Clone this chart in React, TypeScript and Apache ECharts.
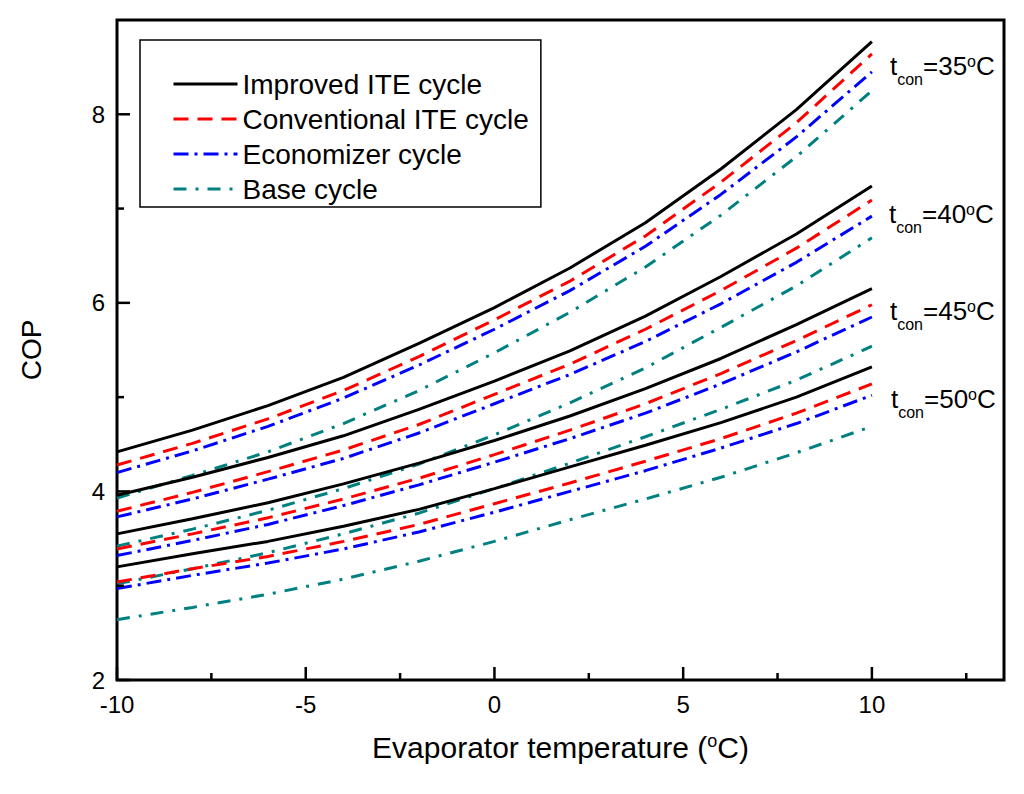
import { useEffect, useRef } from "react";
import * as echarts from "echarts";

// ─── Data ──────────────────────────────────────────────────────────
const X_VALUES = [-10, -8, -6, -4, -2, 0, 2, 4, 6, 8, 10];

const IMPROVED_35 = [4.42, 4.65, 4.91, 5.21, 5.57, 5.95, 6.37, 6.85, 7.42, 8.05, 8.77];
const IMPROVED_40 = [3.96, 4.15, 4.36, 4.59, 4.87, 5.17, 5.49, 5.86, 6.28, 6.73, 7.24];
const IMPROVED_45 = [3.55, 3.71, 3.88, 4.08, 4.30, 4.54, 4.80, 5.09, 5.41, 5.77, 6.15];
const IMPROVED_50 = [3.20, 3.34, 3.47, 3.63, 3.81, 4.03, 4.26, 4.49, 4.73, 5.00, 5.32];

const CONVENTIONAL_35 = [4.28, 4.51, 4.77, 5.07, 5.43, 5.82, 6.23, 6.71, 7.28, 7.91, 8.64];
const CONVENTIONAL_40 = [3.79, 3.99, 4.21, 4.44, 4.71, 5.03, 5.35, 5.72, 6.13, 6.58, 7.09];
const CONVENTIONAL_45 = [3.39, 3.55, 3.72, 3.92, 4.14, 4.39, 4.65, 4.93, 5.25, 5.60, 5.98];
const CONVENTIONAL_50 = [3.04, 3.18, 3.31, 3.47, 3.65, 3.87, 4.09, 4.32, 4.56, 4.83, 5.14];

const ECONOMIZER_35 = [4.20, 4.43, 4.69, 4.99, 5.34, 5.72, 6.13, 6.60, 7.15, 7.76, 8.45];
const ECONOMIZER_40 = [3.73, 3.92, 4.13, 4.35, 4.62, 4.93, 5.24, 5.59, 5.99, 6.43, 6.92];
const ECONOMIZER_45 = [3.32, 3.48, 3.65, 3.85, 4.07, 4.31, 4.56, 4.83, 5.14, 5.48, 5.85];
const ECONOMIZER_50 = [2.97, 3.11, 3.24, 3.39, 3.57, 3.78, 4.00, 4.22, 4.46, 4.72, 5.02];

const BASE_35 = [3.93, 4.17, 4.42, 4.72, 5.07, 5.47, 5.90, 6.38, 6.93, 7.55, 8.25];
const BASE_40 = [3.42, 3.60, 3.80, 4.03, 4.29, 4.60, 4.94, 5.31, 5.74, 6.18, 6.69];
const BASE_45 = [3.02, 3.18, 3.35, 3.55, 3.77, 4.03, 4.30, 4.58, 4.87, 5.18, 5.54];
const BASE_50 = [2.64, 2.77, 2.91, 3.07, 3.26, 3.47, 3.70, 3.92, 4.15, 4.41, 4.69];

const CYCLE_NAMES = [
  "Improved ITE cycle",
  "Conventional ITE cycle",
  "Economizer cycle",
  "Base cycle",
];
const CONDENSER_TEMPS = ["35", "40", "45", "50"];

// tick marks (values on the axes)
const X_MAJOR_TICKS = [-10, -5, 0, 5, 10];
const X_MINOR_TICKS = [-7.5, -2.5, 2.5, 7.5, 12.5];
const Y_MAJOR_TICKS = [2, 4, 6, 8];
const Y_MINOR_TICKS = [3, 5, 7];

// ─── Styles ─────────────────────────────────────────────────────────
const FONT = "'Liberation Sans', Arial, sans-serif";
const X_MIN = -10;
const X_MAX = 13.5;
const Y_MIN = 2;
const Y_MAX = 9;
const MAJOR_LEN = 13;
const MINOR_LEN = 7;

const CYCLE_STYLES = [
  { color: "#000000", type: "solid" as any },
  { color: "#ff0000", type: [15, 9] },
  { color: "#0000ff", type: [15, 6, 3, 6] },
  { color: "#008080", type: [13, 9, 3, 9] },
];
const CYCLE_DATA = [
  [IMPROVED_35, IMPROVED_40, IMPROVED_45, IMPROVED_50],
  [CONVENTIONAL_35, CONVENTIONAL_40, CONVENTIONAL_45, CONVENTIONAL_50],
  [ECONOMIZER_35, ECONOMIZER_40, ECONOMIZER_45, ECONOMIZER_50],
  [BASE_35, BASE_40, BASE_45, BASE_50],
];
// label anchors (px) for the t_con annotations
const TCON_POS = [
  [890, 70],
  [889, 218],
  [890, 315],
  [891, 403],
];

export default function App() {
  const ref = useRef<HTMLDivElement>(null);

  useEffect(() => {
    if (!ref.current) return;
    const chart = echarts.init(ref.current, undefined, { renderer: "svg" });

    // draw base first so black lines end up on top
    const series: any[] = [];
    for (let c = CYCLE_NAMES.length - 1; c >= 0; c--) {
      CYCLE_DATA[c].forEach((arr) => {
        series.push({
          type: "line",
          name: CYCLE_NAMES[c],
          symbol: "none",
          smooth: false,
          lineStyle: { color: CYCLE_STYLES[c].color, width: 3, type: CYCLE_STYLES[c].type },
          itemStyle: { color: CYCLE_STYLES[c].color },
          data: X_VALUES.map((x, i) => [x, arr[i]]),
        });
      });
    }

    // inward ticks, placed through the axes' own scales
    const tickStyle = { stroke: "#000", lineWidth: 2.5 };
    series.push({
      type: "custom",
      silent: true,
      clip: false,
      z: 10,
      data: [
        ...X_MAJOR_TICKS.map((v) => [v, Y_MIN, MAJOR_LEN]),
        ...X_MINOR_TICKS.map((v) => [v, Y_MIN, MINOR_LEN]),
      ],
      renderItem: (_p: any, api: any) => {
        const pt = api.coord([api.value(0), api.value(1)]);
        return {
          type: "line",
          shape: { x1: pt[0], y1: pt[1], x2: pt[0], y2: pt[1] - api.value(2) },
          style: tickStyle,
        };
      },
    });
    series.push({
      type: "custom",
      silent: true,
      clip: false,
      z: 10,
      data: [
        ...Y_MAJOR_TICKS.map((v) => [X_MIN, v, MAJOR_LEN]),
        ...Y_MINOR_TICKS.map((v) => [X_MIN, v, MINOR_LEN]),
      ],
      renderItem: (_p: any, api: any) => {
        const pt = api.coord([api.value(0), api.value(1)]);
        return {
          type: "line",
          shape: { x1: pt[0], y1: pt[1], x2: pt[0] + api.value(2), y2: pt[1] },
          style: tickStyle,
        };
      },
    });

    chart.setOption({
      animation: false,
      backgroundColor: "#fff",
      // the grid border draws the axis lines and the frame
      grid: {
        left: 117,
        right: 20,
        top: 20,
        bottom: 114,
        show: true,
        borderColor: "#000",
        borderWidth: 3,
        outerBoundsMode: "none",
      },
      legend: {
        orient: "vertical",
        left: 140,
        top: 40,
        data: CYCLE_NAMES,
        itemWidth: 64,
        itemHeight: 14,
        itemGap: 7,
        padding: [30, 12, 4, 32],
        borderColor: "#000",
        borderWidth: 1.5,
        backgroundColor: "#fff",
        itemStyle: { color: "rgba(0,0,0,0)", borderColor: "rgba(0,0,0,0)", borderWidth: 0, opacity: 0 },
        lineStyle: { width: 3 },
        textStyle: { fontSize: 28, color: "#000", fontFamily: FONT },
      },
      xAxis: {
        type: "value",
        min: X_MIN,
        max: X_MAX,
        interval: 5,
        name: "Evaporator temperature ({sup|o}C)",
        nameLocation: "middle",
        nameGap: 52,
        nameTextStyle: {
          fontSize: 30,
          color: "#000",
          fontFamily: FONT,
          rich: { sup: { fontSize: 18, verticalAlign: "top", color: "#000", fontFamily: FONT } },
        },
        axisLine: { show: false, onZero: false },
        axisTick: { show: false },
        axisLabel: {
          margin: 12,
          fontSize: 24,
          color: "#000",
          fontFamily: FONT,
          formatter: (v: number) => (v % 5 === 0 && v <= 10 ? String(v) : ""),
        },
        splitLine: { show: false },
      },
      yAxis: {
        type: "value",
        min: Y_MIN,
        max: Y_MAX,
        interval: 2,
        name: "COP",
        nameLocation: "middle",
        nameGap: 72,
        nameTextStyle: { fontSize: 28, color: "#000", fontFamily: FONT },
        axisLine: { show: false, onZero: false },
        axisTick: { show: false },
        axisLabel: {
          margin: 12,
          fontSize: 24,
          color: "#000",
          fontFamily: FONT,
          formatter: (v: number) => (v % 2 === 0 ? String(v) : ""),
        },
        splitLine: { show: false },
      },
      graphic: CONDENSER_TEMPS.map((t, i) => ({
        type: "text",
        x: TCON_POS[i][0],
        y: TCON_POS[i][1],
        z: 100,
        style: {
          text: `{m|t}{s|con}{m|=${t}}{p|o}{m|C}`,
          verticalAlign: "middle",
          align: "left",
          fill: "#000",
          rich: {
            m: { fontSize: 26, fontFamily: FONT, fill: "#000", padding: [0, 0, 8, 0], verticalAlign: "bottom" },
            s: { fontSize: 16, fontFamily: FONT, fill: "#000", verticalAlign: "bottom" },
            p: { fontSize: 16, fontFamily: FONT, fill: "#000", verticalAlign: "top" },
          },
        },
      })),
      series,
    });

    return () => chart.dispose();
  }, []);

  return (
    <div
      ref={ref}
      style={{ position: "fixed", left: 0, top: 0, width: "1024px", height: "794px", background: "#fff" }}
    />
  );
}
